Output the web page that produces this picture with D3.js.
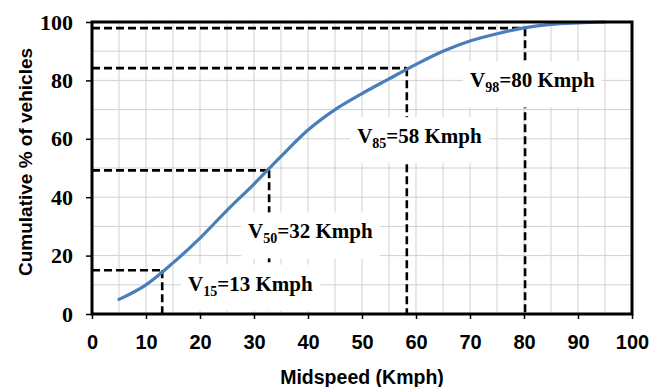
<!DOCTYPE html>
<html><head><meta charset="utf-8">
<script src="https://cdn.jsdelivr.net/npm/d3@7"></script>
<style>
body{margin:0;background:#fff;}
svg{display:block;}
</style></head>
<body>
<svg id="chart" width="649" height="387"></svg>
<script>
// ---- data ----
const speeds = [5,10,15,20,25,30,35,40,45,50,55,60,65,70,75,80,85,90,95];
const cumPct = [5,10,17.5,26,35.5,44.5,54,63,70,75.5,80.5,85.5,90,93.5,96,98,99.2,99.7,100];
const percentiles = ["15","50","85","98"];
const markerSpeed = [13,32.8,58.3,80.2];
const markerPct = [15,49.2,84.2,97.9];
const labelSpeed = ["13","32","58","80"];
const xTicks = [0,10,20,30,40,50,60,70,80,90,100];
const yTicks = [0,20,40,60,80,100];
const xTitle = "Midspeed (Kmph)";
const yTitle = "Cumulative % of vehicles";
// label anchors in data units (speed, percent)
const labelAtX = [17.8,28.9,49.1,70];
const labelAtY = [8,25.9,58.5,77.6];

const svg = d3.select("#chart");
const L=92, R=632, T=22, B=314;
const x = d3.scaleLinear().domain([0,100]).range([L,R]);
const y = d3.scaleLinear().domain([0,100]).range([B,T]);

// grid
const g = svg.append("g");
g.selectAll(".vx").data(d3.range(5,100,5)).enter().append("line")
  .attr("x1",d=>x(d)).attr("x2",d=>x(d)).attr("y1",T).attr("y2",B)
  .attr("stroke","#d0d0d0").attr("stroke-width",1);
g.selectAll(".hy").data(d3.range(10,100,10)).enter().append("line")
  .attr("y1",d=>y(d)).attr("y2",d=>y(d)).attr("x1",L).attr("x2",R)
  .attr("stroke","#d0d0d0").attr("stroke-width",1);

// dashed marker lines
const dash = svg.append("g").attr("stroke","#000").attr("stroke-width",2.6)
  .attr("stroke-dasharray","8,4").attr("fill","none");
percentiles.forEach((p,i)=>{
  dash.append("line").attr("x1",x(0)).attr("x2",x(markerSpeed[i]))
    .attr("y1",y(markerPct[i])).attr("y2",y(markerPct[i]));
  dash.append("line").attr("x1",x(markerSpeed[i])).attr("x2",x(markerSpeed[i]))
    .attr("y1",y(markerPct[i])).attr("y2",y(0));
});

// label boxes + text
const lab = svg.append("g");
percentiles.forEach((p,i)=>{
  const grp = lab.append("g");
  const rect = grp.append("rect").attr("fill","#fff");
  const t = grp.append("text")
    .attr("x",x(labelAtX[i])).attr("y",y(labelAtY[i]))
    .attr("font-family","'Liberation Serif','Times New Roman',serif")
    .attr("font-weight","bold").attr("font-size",21).attr("fill","#000");
  t.append("tspan").text("V");
  t.append("tspan").attr("font-size",14).attr("dy",5).text(p);
  t.append("tspan").attr("dy",-5).text("="+labelSpeed[i]+" Kmph");
  const bb = t.node().getBBox();
  rect.attr("x",bb.x-7).attr("width",bb.width+14)
    .attr("y",y(labelAtY[i])-26).attr("height",46);
});

// curve
const line = d3.line().x((d,i)=>x(speeds[i])).y(d=>y(d)).curve(d3.curveMonotoneX);
svg.append("path").datum(cumPct).attr("d",line)
  .attr("fill","none").attr("stroke","#4a7ebb").attr("stroke-width",3.2)
  .attr("stroke-linecap","round").attr("stroke-linejoin","round");

// frame
svg.append("rect").attr("x",L).attr("y",T).attr("width",R-L).attr("height",B-T)
  .attr("fill","none").attr("stroke","#000").attr("stroke-width",3);

// axes
const xa = svg.append("g").attr("transform",`translate(0,${B})`)
  .call(d3.axisBottom(x).tickValues(xTicks).tickSize(5).tickSizeOuter(0).tickPadding(16));
xa.select(".domain").remove();
xa.selectAll("line").attr("stroke","#000").attr("stroke-width",1.5);
xa.selectAll("text").attr("font-family","'Liberation Sans',Arial,sans-serif")
  .attr("font-weight","bold").attr("font-size",20).attr("fill","#000");

const ya = svg.append("g").attr("transform",`translate(${L},0)`)
  .call(d3.axisLeft(y).tickValues(yTicks).tickSize(6).tickSizeOuter(0).tickPadding(13));
ya.select(".domain").remove();
ya.selectAll("line").attr("stroke","#000").attr("stroke-width",1.5);
ya.selectAll("text").attr("font-family","'Liberation Serif','Times New Roman',serif")
  .attr("font-weight","bold").attr("font-size",22).attr("fill","#000");

// titles
svg.append("text").attr("x",(L+R)/2).attr("y",384).attr("text-anchor","middle")
  .attr("font-family","'Liberation Sans',Arial,sans-serif").attr("font-weight","bold")
  .attr("font-size",19.5).attr("fill","#000").text(xTitle);
svg.append("text").attr("transform","translate(32,162) rotate(-90)").attr("text-anchor","middle")
  .attr("font-family","'Liberation Sans',Arial,sans-serif").attr("font-weight","bold")
  .attr("font-size",19).attr("fill","#000").text(yTitle);
</script>
</body></html>
